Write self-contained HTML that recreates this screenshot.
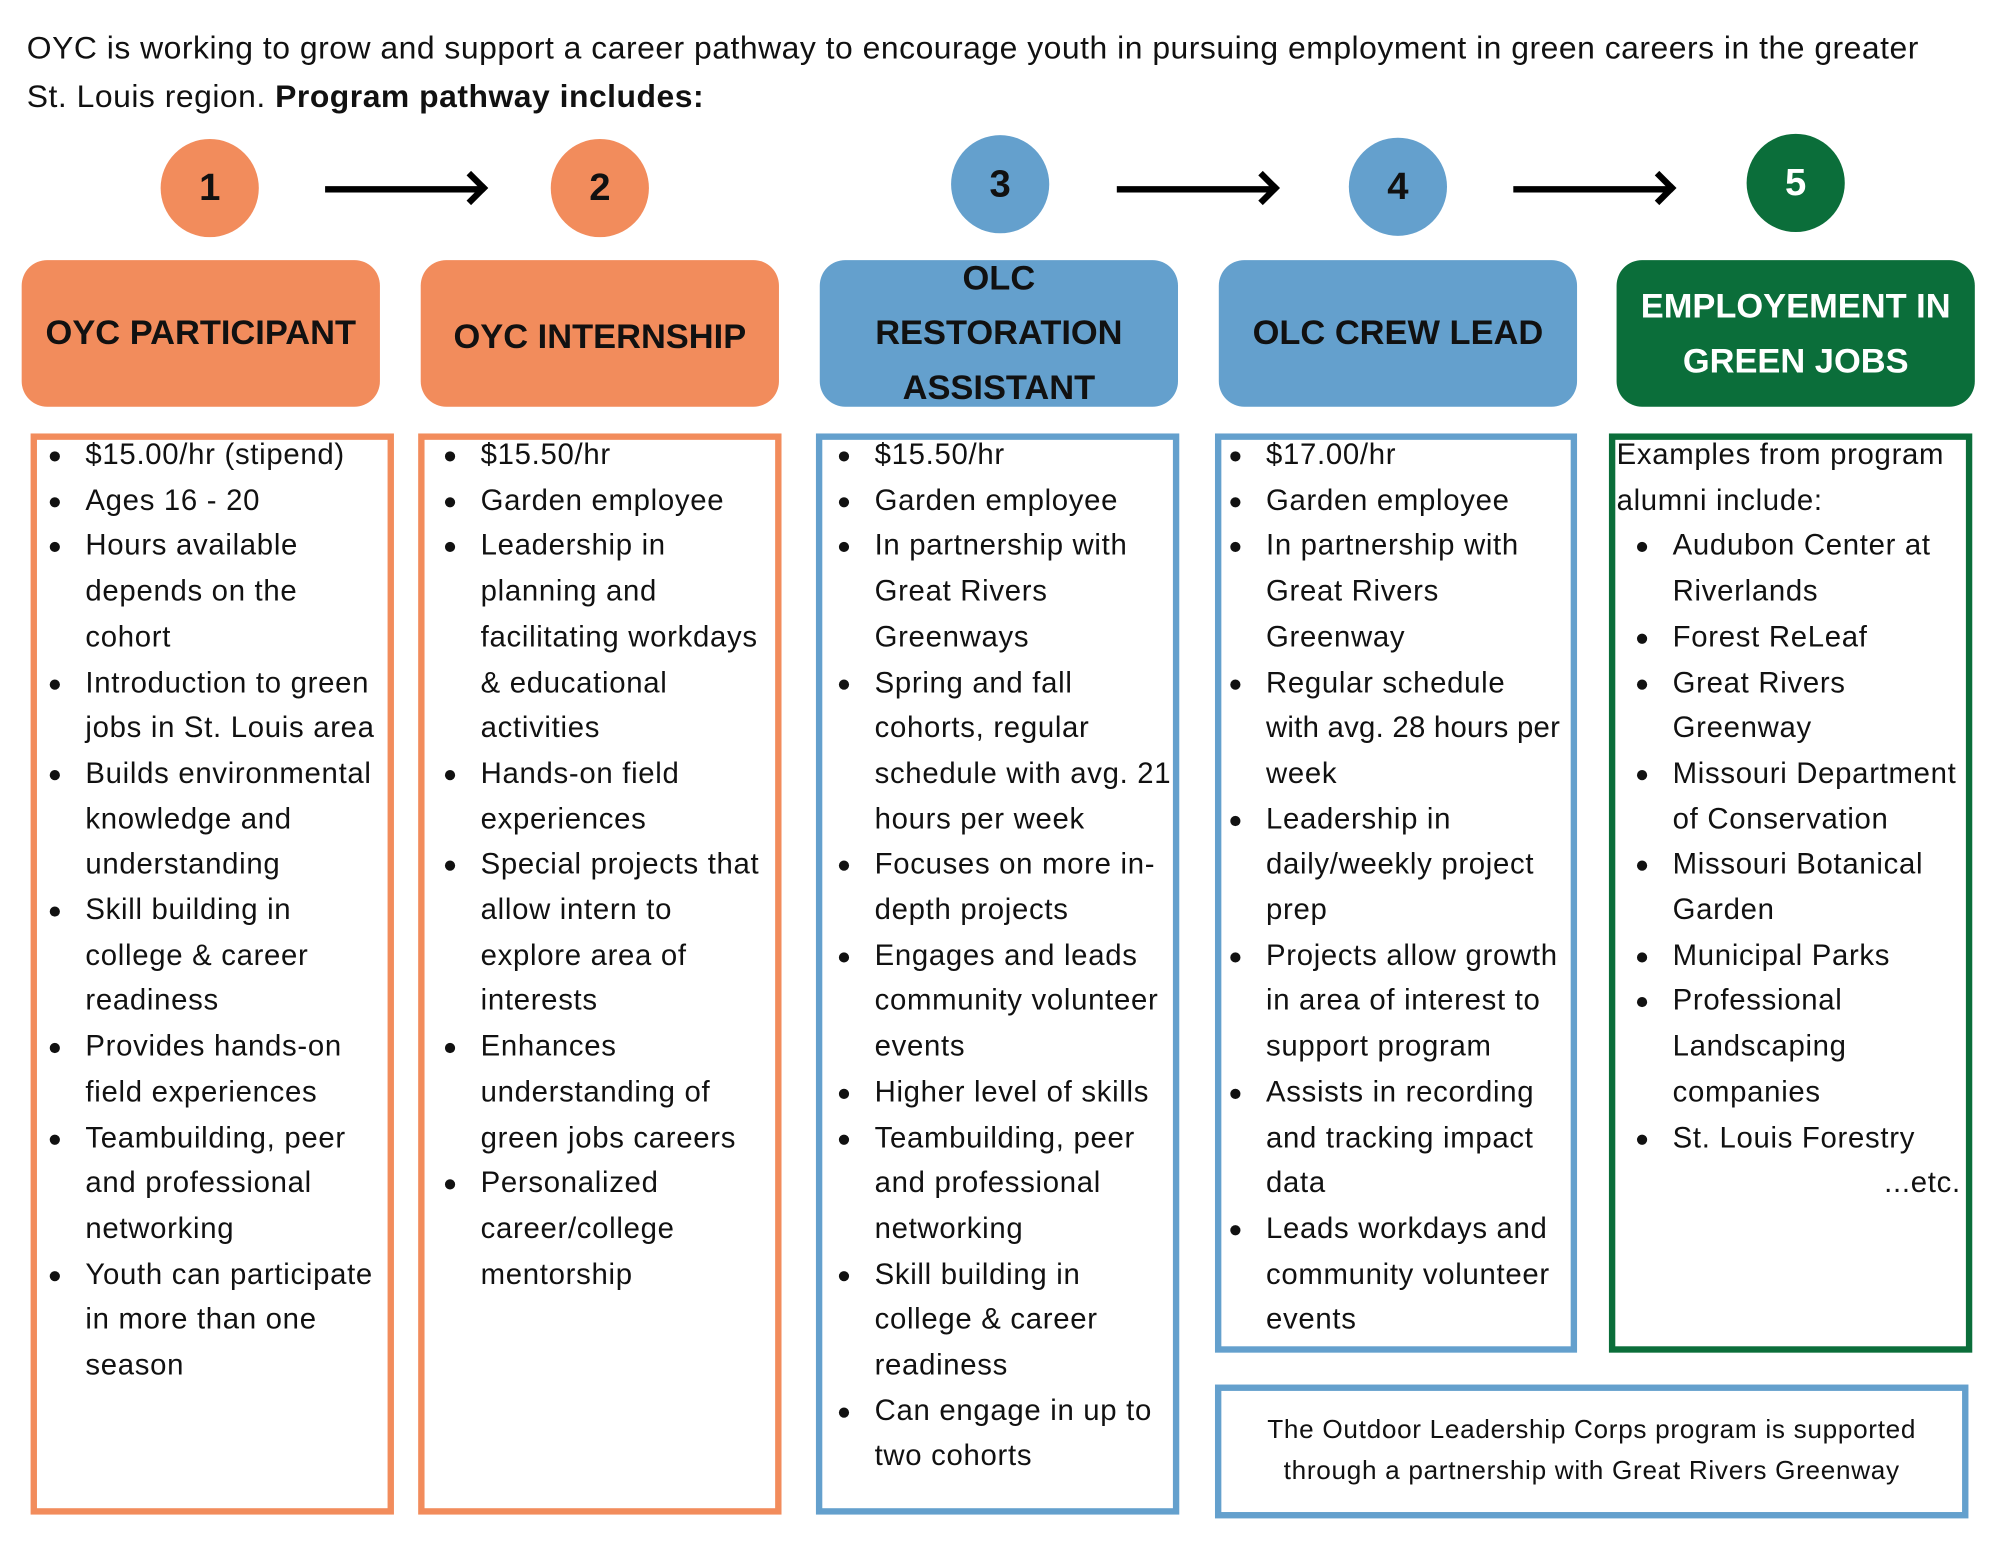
<!DOCTYPE html>
<html><head><meta charset="utf-8"><style>
html,body{margin:0;padding:0;background:#fff;}
body{width:1999px;height:1545px;overflow:hidden;position:relative;}
#w{position:absolute;left:0;top:0;width:1568px;height:1212px;transform:scale(1.2749);transform-origin:0 0;font-family:"Liberation Sans",sans-serif;color:#111;}
.intro{position:absolute;left:21px;top:19px;font-size:25px;line-height:38px;letter-spacing:0.4px;white-space:nowrap;}
.c{position:absolute;width:77px;height:77px;border-radius:50%;font-weight:bold;font-size:30px;line-height:77px;text-align:center;}
.o{background:#f28c5c;}.b{background:#64a0cd;}.g{background:#0b6e3a;color:#fff;}
.ar{position:absolute;height:5px;background:#000;}
.ar:after{content:"";position:absolute;right:-2px;top:-8px;width:14px;height:14px;border-right:5px solid #000;border-top:5px solid #000;transform:rotate(45deg);}
.h{position:absolute;top:204px;height:115px;width:281px;border-radius:20px;display:flex;align-items:center;justify-content:center;text-align:center;font-weight:bold;font-size:27px;line-height:43px;box-sizing:border-box;}
.bx{position:absolute;border:5px solid;box-sizing:border-box;}
.bo{border-color:#f28c5c;}.bb{border-color:#64a0cd;}.bg{border-color:#0b6e3a;}
.l{position:absolute;font-size:23px;line-height:35.7px;white-space:nowrap;letter-spacing:0.55px;}
.l div{position:relative;padding-left:42px;}
.l div:before{content:"";position:absolute;left:14px;top:15px;width:8px;height:8px;border-radius:50%;background:#111;}
.l p{margin:0;}
</style></head><body><div id="w">
<div class="intro">OYC is working to grow and support a career pathway to encourage youth in pursuing employment in green careers in the greater<br>St. Louis region. <b>Program pathway includes:</b></div>
<div class="c o" style="left:126px;top:109px">1</div>
<div class="c o" style="left:432px;top:109px">2</div>
<div class="c b" style="left:746px;top:106px">3</div>
<div class="c b" style="left:1058px;top:108px">4</div>
<div class="c g" style="left:1370px;top:105px">5</div>
<div class="ar" style="left:255px;top:146px;width:122px"></div>
<div class="ar" style="left:876px;top:146px;width:122px"></div>
<div class="ar" style="left:1187px;top:146px;width:122px"></div>
<div class="h o" style="left:17px">OYC PARTICIPANT</div>
<div class="h o" style="left:330px;padding-top:6px">OYC INTERNSHIP</div>
<div class="h b" style="left:643px;padding-top:0px">OLC<br>RESTORATION<br>ASSISTANT</div>
<div class="h b" style="left:956px">OLC CREW LEAD</div>
<div class="h g" style="left:1268px;color:#fff">EMPLOYEMENT IN<br>GREEN JOBS</div>
<div class="bx bo" style="left:24px;top:340px;width:285px;height:848px"></div>
<div class="bx bo" style="left:328px;top:340px;width:285px;height:848px"></div>
<div class="bx bb" style="left:640px;top:340px;width:285px;height:848px"></div>
<div class="bx bb" style="left:953px;top:340px;width:284px;height:721px"></div>
<div class="bx bg" style="left:1262px;top:340px;width:285px;height:721px"></div>
<div class="bx bb" style="left:953px;top:1086px;width:591px;height:105px;font-size:20.5px;line-height:32px;text-align:center;padding-top:15px;letter-spacing:0.55px">The Outdoor Leadership Corps program is supported<br>through a partnership with Great Rivers Greenway</div>
<div class="l" style="left:25px;top:339px">
<div>$15.00/hr (stipend)</div><div>Ages 16 - 20</div><div>Hours available<br>depends on the<br>cohort</div><div>Introduction to green<br>jobs in St. Louis area</div><div>Builds environmental<br>knowledge and<br>understanding</div><div>Skill building in<br>college &amp; career<br>readiness</div><div>Provides hands-on<br>field experiences</div><div>Teambuilding, peer<br>and professional<br>networking</div><div>Youth can participate<br>in more than one<br>season</div></div>
<div class="l" style="left:335px;top:339px">
<div>$15.50/hr</div><div>Garden employee</div><div>Leadership in<br>planning and<br>facilitating workdays<br>&amp; educational<br>activities</div><div>Hands-on field<br>experiences</div><div>Special projects that<br>allow intern to<br>explore area of<br>interests</div><div>Enhances<br>understanding of<br>green jobs careers</div><div>Personalized<br>career/college<br>mentorship</div></div>
<div class="l" style="left:644px;top:339px">
<div>$15.50/hr</div><div>Garden employee</div><div>In partnership with<br>Great Rivers<br>Greenways</div><div>Spring and fall<br>cohorts, regular<br>schedule with avg. 21<br>hours per week</div><div>Focuses on more in-<br>depth projects</div><div>Engages and leads<br>community volunteer<br>events</div><div>Higher level of skills</div><div>Teambuilding, peer<br>and professional<br>networking</div><div>Skill building in<br>college &amp; career<br>readiness</div><div>Can engage in up to<br>two cohorts</div></div>
<div class="l" style="left:951px;top:339px">
<div>$17.00/hr</div><div>Garden employee</div><div>In partnership with<br>Great Rivers<br>Greenway</div><div>Regular schedule<br><span style="letter-spacing:0.2px">with avg. 28 hours per</span><br>week</div><div>Leadership in<br>daily/weekly project<br>prep</div><div>Projects allow growth<br>in area of interest to<br>support program</div><div>Assists in recording<br>and tracking impact<br>data</div><div>Leads workdays and<br>community volunteer<br>events</div></div>
<div class="l" style="left:1268px;top:339px">
<p>Examples from program<br>alumni include:</p>
<div style="margin-left:2px">Audubon Center at<br>Riverlands</div><div style="margin-left:2px">Forest ReLeaf</div><div style="margin-left:2px">Great Rivers<br>Greenway</div><div style="margin-left:2px">Missouri Department<br>of Conservation</div><div style="margin-left:2px">Missouri Botanical<br>Garden</div><div style="margin-left:2px">Municipal Parks</div><div style="margin-left:2px">Professional<br>Landscaping<br>companies</div><div style="margin-left:2px">St. Louis Forestry</div>
<p style="text-align:right;width:270px">...etc.</p></div>
</div></body></html>
